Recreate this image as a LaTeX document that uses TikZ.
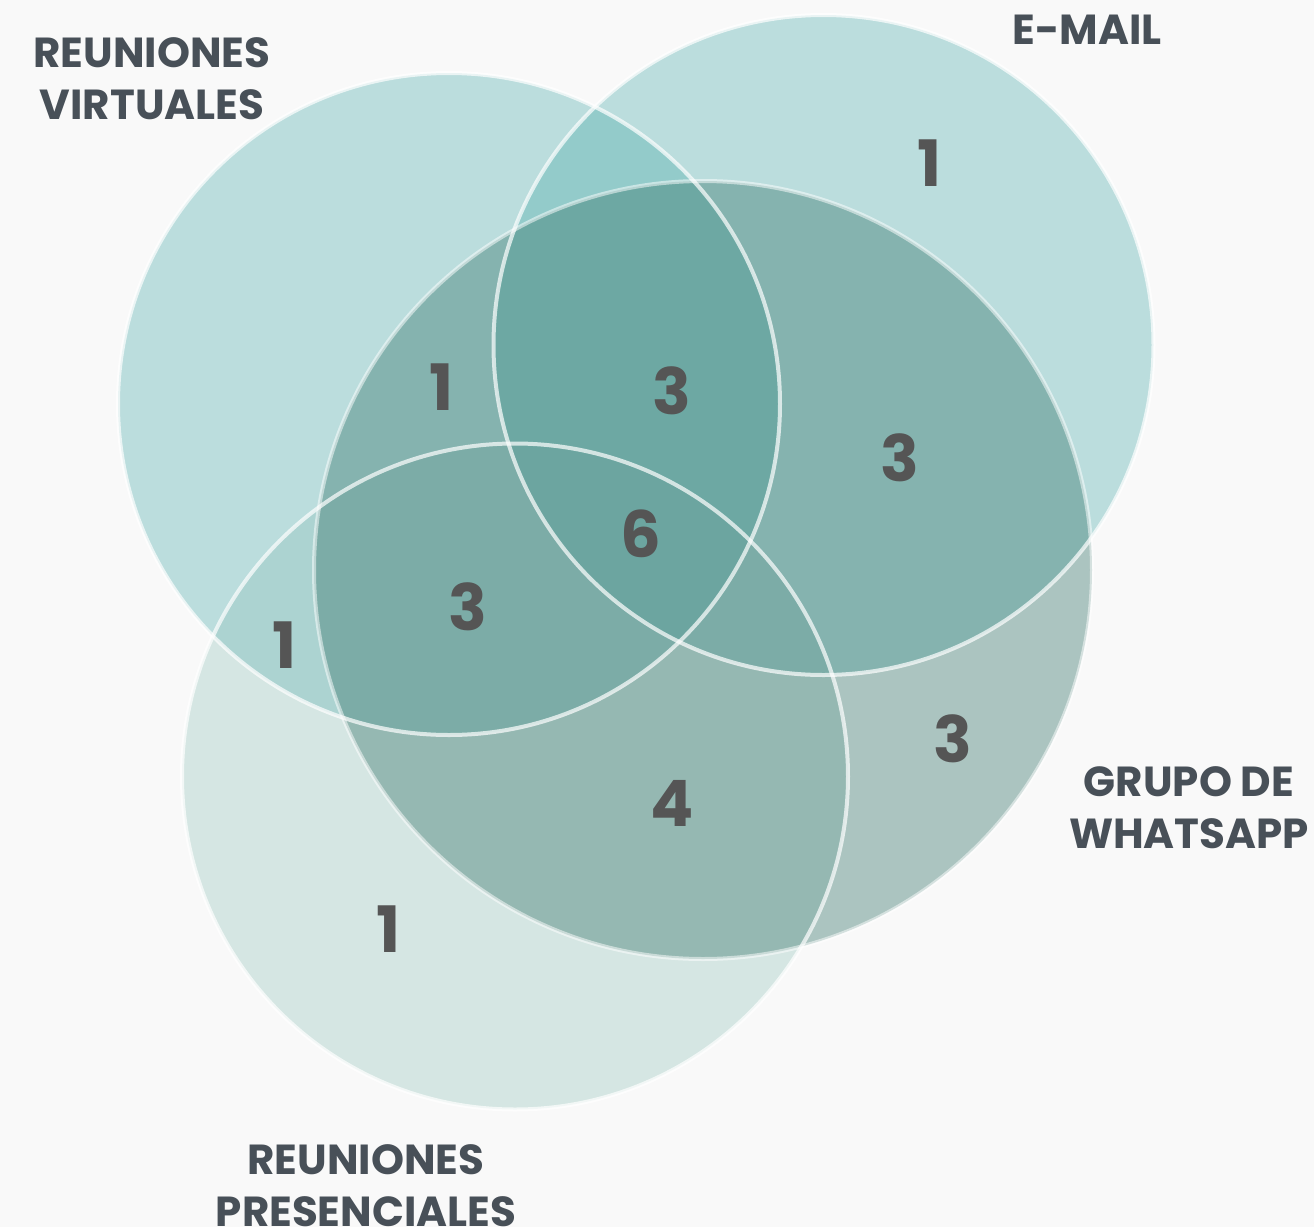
\documentclass[tikz,border=0pt]{standalone}
\usepackage{fontspec}
\setmainfont{Poppins}
\definecolor{bggray}{HTML}{F9F9F9}
\definecolor{tealV}{RGB}{72,170,168}
\definecolor{tealP}{RGB}{145,194,188}
\definecolor{tealW}{RGB}{51,114,104}
\definecolor{labelgray}{HTML}{485058}
\definecolor{numgray}{HTML}{555555}
\begin{document}
\begin{tikzpicture}[x=0.5pt, y=-0.5pt,
  ring/.style={draw=white, draw opacity=0.7, line width=2pt},
  setlabel/.style={font=\fontsize{21}{26}\selectfont\bfseries, text=labelgray, align=center},
  count/.style={font=\fontsize{32}{32}\selectfont\bfseries, text=numgray}]
  % Background and page size
  \useasboundingbox[fill=bggray] (0,0) rectangle (1314,1227);

  % The four sets, back to front
  \fill[tealV, fill opacity=0.344] (449,404) circle[radius=165.5pt];   % virtuales
  \fill[tealV, fill opacity=0.344] (823.5,345) circle[radius=165pt];   % e-mail
  \fill[tealP, fill opacity=0.344] (515,776.5) circle[radius=166.5pt]; % presenciales
  \fill[tealW, fill opacity=0.393] (703,570) circle[radius=194.5pt];   % whatsapp

  % White rims on top of all fills
  \draw[ring] (449,404) circle[radius=165.5pt];
  \draw[ring] (823.5,345) circle[radius=165pt];
  \draw[ring] (515,776.5) circle[radius=166.5pt];
  \draw[ring, draw opacity=0.5] (703,570) circle[radius=194.5pt];

  % Set names
  \node[setlabel] (virt) at (152,79) {REUNIONES\\VIRTUALES};
  \node[setlabel] (mail) at (1087,30) {E-MAIL};
  \node[setlabel] (whats) at (1189,808) {GRUPO DE\\WHATSAPP};
  \node[setlabel] (pres) at (366,1186) {REUNIONES\\PRESENCIALES};

  % Counts in each region
  \node[count] (nE) at (930,163) {1};
  \node[count] (nVW) at (442,387) {1};
  \node[count] (nVEW) at (672,391) {3};
  \node[count] (nEW) at (900,458) {3};
  \node[count] (nAll) at (641,534) {6};
  \node[count] (nVWP) at (468,607) {3};
  \node[count] (nVP) at (285,645) {1};
  \node[count] (nW) at (953,739) {3};
  \node[count] (nWP) at (672,803) {4};
  \node[count] (nP) at (389,929) {1};
\end{tikzpicture}
\end{document}
